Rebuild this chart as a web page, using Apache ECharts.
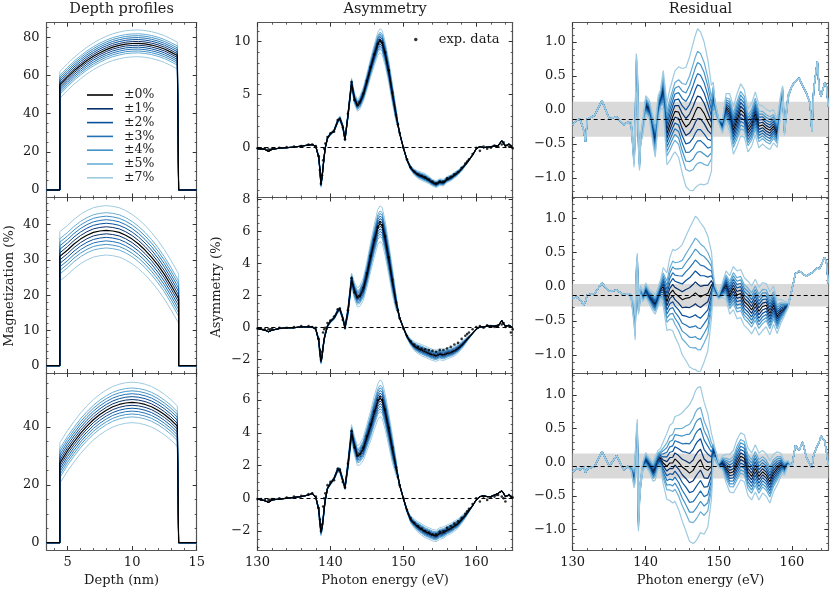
<!DOCTYPE html>
<html><head><meta charset="utf-8">
<script src="https://cdn.jsdelivr.net/npm/echarts@6/dist/echarts.min.js"></script>
<style>html,body{margin:0;padding:0;background:#fff}#c{width:830px;height:593px}</style>
</head><body><div id="c"></div>
<script>
// ---------------- data ----------------
const energy = [130,130.5,131,131.5,131.75,132,133,134,135,136,
 137,137.5,138,138.4,138.55,138.7,138.85,139,139.15,139.3,
 139.6,140,140.5,141,141.3,141.7,142,142.4,142.9,143.3,
 143.7,144,144.5,145,145.5,146,146.5,146.8,147.1,147.5,
 148,148.5,149,149.25,149.5,150,150.5,151,151.5,152,
 152.5,153,153.5,154,154.5,155,155.5,156,156.5,157,
 157.5,158,158.5,158.75,159,159.5,160,160.5,161,161.5,
 162,162.5,162.75,163,163.5,163.75,164,164.5,164.75,165];

const fit1 = [-0.1,-0.1,-0.15,-0.35,-0.3,-0.15,-0.05,0.0,0.05,0.15,
 0.25,0.3,0.1,-0.9,-2.0,-3.45,-2.8,-1.8,-0.8,0.0,
 0.9,1.3,1.6,2.5,2.75,2.0,0.75,3.0,6.1,4.6,
 4.0,4.2,5.0,6.2,7.5,8.7,9.8,10.1,9.9,8.9,
 7.2,5.1,3.1,2.2,1.35,0.0,-1.15,-1.9,-2.3,-2.55,
 -2.7,-2.85,-3.05,-3.3,-3.45,-3.25,-3.3,-3.0,-2.85,-2.6,
 -2.35,-2.0,-1.6,-1.4,-1.15,-0.7,-0.1,0.1,0.0,0.05,
 0.1,0.15,0.15,0.2,0.65,0.4,0.15,0.35,0.2,0.0];
const exp1 = [-0.05,-0.1,-0.05,-0.15,-0.2,-0.1,0.0,0.05,0.1,0.15,
 0.3,0.3,0.15,-0.8,-2.1,-3.4,-2.6,-1.2,-0.1,0.4,
 1.0,1.35,1.5,2.6,2.7,1.9,0.8,3.2,6.2,4.5,
 4.0,4.3,5.1,6.3,7.6,8.8,9.8,10.1,9.9,9.0,
 7.3,5.2,3.1,2.2,1.4,0.0,-1.1,-1.85,-2.25,-2.5,
 -2.65,-2.8,-3.0,-3.2,-3.35,-3.2,-3.2,-2.9,-2.75,-2.5,
 -2.3,-1.9,-1.5,-1.3,-1.1,-0.6,0.0,-0.3,0.1,-0.1,
 0.0,0.2,0.1,0.1,0.3,0.5,0.2,0.1,0.15,-0.05];
const res1 = [-0.22,-0.15,-0.13,-0.3,-0.47,-0.13,-0.08,0.14,-0.13,-0.1,
 -0.22,-0.18,-0.2,-0.7,-0.3,0.55,0.45,-0.4,-0.75,-0.45,
 -0.25,0.07,0.0,-0.3,-0.45,0.0,0.15,0.3,-0.35,-0.22,
 -0.1,-0.02,-0.03,-0.16,-0.25,-0.2,-0.1,-0.02,0.04,0.03,
 -0.05,-0.17,-0.27,0.2,0.05,-0.16,-0.24,0.03,-0.04,-0.3,
 -0.15,0.0,-0.05,-0.3,-0.22,-0.05,-0.24,-0.22,-0.27,-0.3,
 -0.24,-0.34,0.1,0.25,-0.3,0.2,0.35,0.42,0.47,0.35,
 0.25,0.1,-0.32,0.3,0.72,0.3,0.2,0.4,0.35,0.05];
const sens1 = [0,0,0,0,0,0,0,0,0,0,
 0,0,0.005,0.02,0.03,0.04,0.035,0.025,0.02,0.01,
 0.015,0.02,0.02,0.03,0.035,0.03,0.02,0.04,0.065,0.075,
 0.08,0.085,0.095,0.11,0.125,0.14,0.155,0.16,0.165,0.16,
 0.15,0.13,0.09,0.03,0.01,0.005,0.015,0.03,0.04,0.05,
 0.055,0.055,0.05,0.045,0.045,0.045,0.045,0.04,0.04,0.04,
 0.035,0.03,0.02,0.015,0.01,0.005,0,0,0,0,
 0,0,0,0,0,0,0,0,0,0];

const fit2 = [-0.05,-0.1,-0.15,-0.25,-0.2,-0.15,-0.05,0.0,0.0,0.05,
 0.05,0.05,-0.1,-0.8,-1.5,-2.1,-1.8,-1.2,-0.7,-0.4,
 0.1,0.4,0.6,1.05,1.15,0.6,0.0,1.0,3.0,2.3,
 1.9,1.95,2.4,3.3,4.4,5.4,6.3,6.5,6.4,5.6,
 4.3,2.9,1.6,1.1,0.6,0.0,-0.55,-0.9,-1.15,-1.3,
 -1.4,-1.5,-1.6,-1.7,-1.75,-1.65,-1.7,-1.6,-1.55,-1.45,
 -1.3,-1.1,-0.85,-0.72,-0.6,-0.35,-0.1,0.05,0.05,0.1,
 0.1,0.1,0.1,0.1,0.45,0.25,0.1,0.15,0.1,0.0];
const exp2 = [-0.05,-0.05,-0.1,-0.1,-0.1,-0.05,0.0,0.0,0.05,0.1,
 0.1,0.05,0.0,-0.7,-1.4,-2.0,-1.5,-0.3,-0.1,0.0,
 0.3,0.45,0.7,1.15,1.2,0.5,0.0,1.1,3.1,2.2,
 1.9,2.0,2.5,3.4,4.5,5.5,6.3,6.6,6.4,5.7,
 4.4,3.0,1.6,1.1,0.6,-0.05,-0.5,-0.85,-1.05,-1.2,
 -1.3,-1.35,-1.4,-1.45,-1.5,-1.4,-1.4,-1.3,-1.2,-1.05,
 -0.95,-0.7,-0.5,-0.4,-0.3,-0.1,0.05,0.1,0.0,0.15,
 0.1,0.05,0.1,0.15,0.2,0.3,0.05,0.1,-0.3,-0.1];
const res2 = [-0.17,-0.15,-0.19,-0.27,-0.22,-0.12,-0.1,0.05,-0.07,-0.05,
 -0.12,-0.1,-0.14,-0.4,-0.6,0.1,0.35,-0.3,-0.2,-0.05,
 -0.15,-0.05,-0.15,-0.22,-0.26,-0.15,-0.05,0.0,-0.22,-0.1,
 -0.05,-0.1,-0.14,-0.19,-0.17,-0.16,-0.12,-0.09,-0.12,-0.15,
 -0.12,-0.1,0.02,0.06,-0.05,-0.15,-0.05,0.02,-0.12,-0.02,
 -0.12,-0.1,-0.22,-0.27,-0.34,-0.24,-0.36,-0.29,-0.27,-0.39,
 -0.27,-0.44,-0.36,-0.34,-0.32,-0.27,-0.05,0.19,0.23,0.19,
 0.15,0.19,0.17,0.22,0.28,0.25,0.23,0.43,0.35,0.05];
const sens2 = [0,0,0,0,0,0,0,0,0,0,
 0,0,0.005,0.02,0.025,0.025,0.02,0.015,0.015,0.01,
 0.01,0.015,0.015,0.02,0.02,0.02,0.02,0.04,0.06,0.075,
 0.085,0.09,0.1,0.115,0.13,0.145,0.155,0.16,0.16,0.155,
 0.14,0.12,0.07,0.02,0.01,0.005,0.015,0.03,0.04,0.045,
 0.05,0.05,0.05,0.05,0.05,0.05,0.05,0.05,0.045,0.045,
 0.04,0.035,0.025,0.02,0.015,0.005,0,0,0,0,
 0,0,0,0,0,0,0,0,0,0];

const fit3 = [-0.05,-0.1,-0.15,-0.25,-0.2,-0.1,-0.05,0.0,0.05,0.1,
 0.2,0.3,0.05,-0.7,-1.4,-2.05,-1.8,-1.3,-0.6,-0.1,
 0.6,0.9,1.2,1.75,1.7,1.1,0.65,2.0,4.0,3.2,
 2.6,2.65,3.0,3.7,4.4,5.2,5.9,6.1,6.0,5.3,
 4.2,3.0,1.9,1.35,0.8,0.0,-0.75,-1.3,-1.55,-1.75,
 -1.9,-2.05,-2.15,-2.25,-2.3,-2.15,-2.1,-1.95,-1.85,-1.7,
 -1.55,-1.3,-1.05,-0.9,-0.75,-0.45,-0.1,0.1,0.15,0.1,
 0.1,0.2,0.25,0.3,0.45,0.3,0.1,0.2,0.15,0.0];
const exp3 = [-0.05,-0.05,-0.1,-0.1,-0.1,-0.05,0.0,0.05,0.1,0.15,
 0.25,0.3,0.1,-0.6,-1.3,-2.0,-1.6,-0.5,0.0,0.3,
 0.8,1.0,1.1,1.8,1.75,1.0,0.65,2.1,4.1,3.1,
 2.6,2.7,3.1,3.8,4.5,5.3,6.0,6.2,6.0,5.4,
 4.3,3.1,1.9,1.3,0.8,0.0,-0.7,-1.2,-1.5,-1.7,
 -1.85,-2.0,-2.1,-2.2,-2.2,-2.05,-2.0,-1.8,-1.7,-1.55,
 -1.4,-1.2,-0.95,-0.8,-0.65,-0.35,0.0,-0.2,0.1,-0.1,
 0.05,0.1,0.2,0.2,0.1,0.0,-0.2,0.2,0.1,0.05];
const res3 = [-0.14,-0.09,-0.11,-0.06,-0.15,-0.1,-0.06,0.16,-0.06,0.1,
 -0.11,-0.06,-0.09,-0.24,-0.1,0.2,0.43,-0.85,-0.5,-0.31,
 -0.06,0.04,-0.04,-0.14,-0.09,0.04,0.06,-0.01,-0.06,-0.01,
 -0.01,0.05,0.0,-0.07,-0.11,-0.16,-0.12,-0.06,-0.01,0.04,
 -0.09,-0.12,-0.06,0.18,0.14,-0.04,-0.01,-0.09,-0.16,-0.14,
 -0.01,0.09,0.06,-0.14,-0.21,-0.09,-0.21,-0.14,-0.19,-0.29,
 -0.16,-0.09,-0.04,-0.02,-0.09,-0.01,-0.06,0.25,0.18,0.3,
 0.07,-0.04,-0.08,0.11,0.25,0.3,0.39,0.32,0.15,-0.04];
const sens3 = [0,0,0,0,0,0,0,0,0,0,
 0,0,0.005,0.02,0.03,0.035,0.03,0.025,0.02,0.01,
 0.01,0.015,0.015,0.02,0.025,0.02,0.02,0.045,0.07,0.08,
 0.085,0.09,0.1,0.115,0.13,0.145,0.155,0.16,0.16,0.155,
 0.14,0.12,0.07,0.02,0.01,0.005,0.015,0.03,0.04,0.045,
 0.05,0.05,0.05,0.05,0.05,0.05,0.05,0.045,0.045,0.045,
 0.04,0.035,0.025,0.02,0.015,0.005,0,0,0,0,
 0,0,0,0,0,0,0,0,0,0];

const depth = [3.37,4.4,4.4,5,5.5,6,6.5,7,7.5,8,8.5,9,9.5,10,10.5,11,11.5,12,12.5,13,13.5,13.6,13.6,15];
const prof1 = [0,0,55.0,59.2,62.4,65.2,67.8,70.0,71.9,73.5,74.8,75.7,76.4,76.7,76.8,76.5,75.9,75.0,73.8,72.2,70.4,70.0,0,0];
const prof2 = [0,0,31.0,32.8,34.5,35.9,37.0,37.8,38.2,38.4,38.2,37.8,37.0,35.9,34.5,32.8,30.8,28.5,25.9,22.9,19.7,19.0,0,0];
const prof3 = [0,0,27.5,31.8,34.9,37.8,40.3,42.5,44.3,45.8,47.0,47.8,48.3,48.5,48.3,47.8,47.0,45.8,44.3,42.5,40.3,39.8,0,0];

const levels = [1,2,3,4,5,7];
const levelNames = ['±1%','±2%','±3%','±4%','±5%','±7%'];
const levelColors = ['#08306b','#08519c','#2171b5','#4292c6','#6baed6','#9ecae1'];

const residMean = [-0.133,-0.127,-0.055];
const bandLow = [-0.395,-0.29,-0.24];
const bandHigh = [0.12,0.04,0.13];

// tick labels
const depthTicks = [5,10,15];
const energyTicks = [130,140,150,160];
const magTicks = [[0,20,40,60,80],[0,10,20,30,40],[0,20,40]];
const asymTicks = [[0,5,10],[-2,0,2,4,6,8],[-2,0,2,4,6]];
const resTicks = [-1.0,-0.5,0.0,0.5,1.0];

// ---------------- layout ----------------
const colLeft = [46.5,257.5,572.7], colWidth = [150.2,255.2,255.6];
const rowTop = [22.7,197.5,373], rowHeight = [174.8,175.5,177];
const depthRange = [3.37,15], energyRange = [130,165];
const magRange = [[-3.93,87.6],[-2.07,47.7],[-2.52,58.67]];
const asymRange = [[-4.70,11.79],[-2.83,8.14],[-3.16,7.65]];
const resRange = [[-1.287,1.284],[-1.262,1.304],[-1.303,1.327]];
const magSplit = [[4,4],[5,5],[3,4]];      // [splitNumber, minor splits]
const asymSplit = [[3,5],[5,4],[5,4]];

const FONT = 'DejaVu Serif';
const FRAME = '#555', TICK = '#333', TXT = '#1a1a1a';
const minus = s => String(s).replace('-', '\u2212');
const fmtInt = v => minus(Math.round(v));
const fmt1 = v => minus((Math.abs(v) < 1e-9 ? 0 : v).toFixed(1));

const grids = [], xAxes = [], yAxes = [], series = [];

function addPanel(r, c, xr, xt, xs, yr, yt, ys, yfmt) {
  const gi = grids.length;
  grids.push({left: colLeft[c], top: rowTop[r], width: colWidth[c], height: rowHeight[r], containLabel: false});
  const lbl = (show, vals, f) => ({show, customValues: vals, margin: 6, fontFamily: FONT, fontSize: 13, color: TXT, formatter: f});
  ['bottom','top'].forEach(pos => {
    xAxes.push({gridIndex: gi, type: 'value', position: pos, min: xr[0], max: xr[1], splitNumber: xs[0],
      axisLine: {show: true, onZero: false, lineStyle: {color: FRAME, width: 1.2}},
      axisTick: {show: true, inside: true, length: 4, customValues: xt, lineStyle: {color: TICK, width: 1}},
      minorTick: {show: true, splitNumber: xs[1], length: 2, lineStyle: {color: TICK, width: 0.8}},
      axisLabel: lbl(pos === 'bottom' && r === 2, xt, fmtInt),
      splitLine: {show: false}, minorSplitLine: {show: false}});
  });
  ['left','right'].forEach(pos => {
    yAxes.push({gridIndex: gi, type: 'value', position: pos, min: yr[0], max: yr[1], splitNumber: ys[0],
      axisLine: {show: true, onZero: false, lineStyle: {color: FRAME, width: 1.2}},
      axisTick: {show: true, inside: true, length: 4, customValues: yt, lineStyle: {color: TICK, width: 1}},
      minorTick: {show: true, splitNumber: ys[1], length: 2, lineStyle: {color: TICK, width: 0.8}},
      axisLabel: Object.assign(lbl(pos === 'left', yt, yfmt), {margin: 7}),
      splitLine: {show: false}, minorSplitLine: {show: false}});
  });
  return gi;
}

const line = (gi, name, data, color, width, z) => ({
  type: 'line', name, xAxisIndex: gi * 2, yAxisIndex: gi * 2, data, symbol: 'none', showSymbol: false,
  lineStyle: {color, width}, itemStyle: {color}, silent: true, animation: false, z: z || 2
});

const fits = [fit1, fit2, fit3], exps = [exp1, exp2, exp3], ress = [res1, res2, res3], senss = [sens1, sens2, sens3];
const profs = [prof1, prof2, prof3];

for (let r = 0; r < 3; r++) {
  // depth profile panel
  let gi = addPanel(r, 0, depthRange, depthTicks, [2,5], magRange[r], magTicks[r], magSplit[r], fmtInt);
  const prof = profs[r];
  for (let j = levels.length - 1; j >= 0; j--) {
    [1, -1].forEach(sg => {
      series.push(line(gi, levelNames[j], depth.map((d, i) => [d, prof[i] === 0 ? 0 : prof[i] + sg * levels[j]]), levelColors[j], 1));
    });
  }
  series.push(line(gi, '±0%', depth.map((d, i) => [d, prof[i]]), '#000', 1.2, 3));

  // asymmetry panel
  gi = addPanel(r, 1, energyRange, energyTicks, [3,5], asymRange[r], asymTicks[r], asymSplit[r], fmtInt);
  const fit = fits[r], ex = exps[r], ss = senss[r], rs = ress[r];
  for (let j = levels.length - 1; j >= 0; j--) {
    [1, -1].forEach(sg => {
      series.push(line(gi, levelNames[j], energy.map((e, i) => [e, fit[i] + sg * levels[j] * ss[i]]), levelColors[j], 1));
    });
  }
  const fl = line(gi, 'fit', energy.map((e, i) => [e, fit[i]]), '#000', 1.3, 3);
  fl.markLine = {silent: true, symbol: ['none','none'], label: {show: false}, z: 1,
    lineStyle: {color: '#000', type: [4,3], width: 1}, data: [{yAxis: 0}]};
  series.push(fl);
  series.push({type: 'scatter', name: 'exp. data', xAxisIndex: gi * 2, yAxisIndex: gi * 2,
    data: energy.map((e, i) => [e, ex[i]]), symbol: 'circle', symbolSize: 2.6,
    itemStyle: {color: '#000'}, silent: true, animation: false, z: 4});

  // residual panel
  gi = addPanel(r, 2, energyRange, energyTicks, [3,5], resRange[r], resTicks, [5,5], fmt1);
  const base = line(gi, 'res0', energy.map((e, i) => [e, rs[i]]), '#000', 1.1, 2);
  base.markArea = {silent: true, z: 1, itemStyle: {color: '#d9d9d9'}, data: [[{yAxis: bandLow[r]}, {yAxis: bandHigh[r]}]]};
  series.push(base);
  for (let j = 0; j < levels.length; j++) {
    [1, -1].forEach(sg => {
      series.push(line(gi, levelNames[j], energy.map((e, i) => [e, rs[i] - sg * levels[j] * ss[i]]), levelColors[j], 1.2));
    });
  }
  const last = series[series.length - 1];
  last.markLine = {silent: true, symbol: ['none','none'], label: {show: false}, z: 10,
    lineStyle: {color: '#000', type: [4,3], width: 1}, data: [{yAxis: residMean[r]}]};
}

const txt = (text, x, y, rot, size) => ({type: 'text', x, y, rotation: rot || 0, silent: true,
  style: {text, fontFamily: FONT, fontSize: size || 13, fill: TXT, textAlign: 'center', textVerticalAlign: 'middle'}});

const option = {
  backgroundColor: '#fff',
  animation: false,
  grid: grids, xAxis: xAxes, yAxis: yAxes, series,
  legend: [
    {data: ['±0%'].concat(levelNames).map(n => ({name: n, icon: 'rect'})), orient: 'vertical', left: 87, top: 88.5,
     itemWidth: 26, itemHeight: 1.6, itemGap: 0.8, padding: 0, selectedMode: false,
     textStyle: {fontFamily: FONT, fontSize: 12.5, color: TXT, lineHeight: 13, padding: [0,0,0,6]}},
    {data: [{name: 'exp. data', icon: 'circle'}], left: 414, top: 33, itemWidth: 36, itemHeight: 3.5, padding: 0,
     selectedMode: false, textStyle: {fontFamily: FONT, fontSize: 13, color: TXT}}
  ],
  graphic: [
    txt('Depth profiles', 121.6, 9, 0, 14.5), txt('Asymmetry', 385.1, 9, 0, 14.5), txt('Residual', 700.5, 9, 0, 14.5),
    txt('Depth (nm)', 121.6, 581), txt('Photon energy (eV)', 385.1, 581), txt('Photon energy (eV)', 700.5, 581),
    txt('Magnetization (%)', 9.5, 286, Math.PI / 2), txt('Asymmetry (%)', 217, 287, Math.PI / 2)
  ]
};
const chart = echarts.init(document.getElementById('c'), null, {renderer: 'canvas'});
chart.setOption(option);
</script>
</body></html>
